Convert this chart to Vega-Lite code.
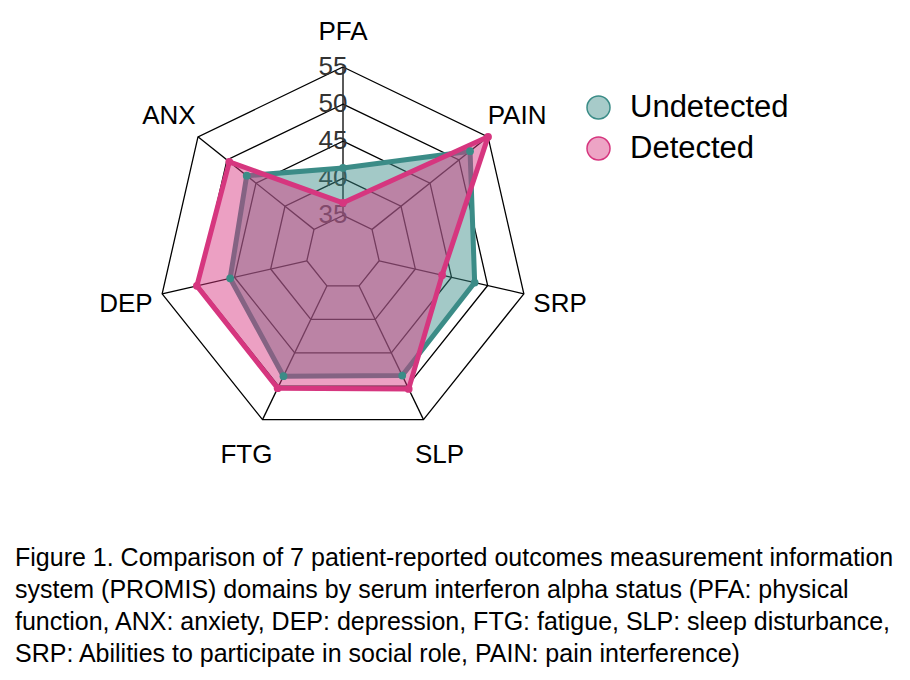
{
  "$schema": "https://vega.github.io/schema/vega-lite/v6.json",
  "width": 910,
  "height": 520,
  "autosize": "none",
  "padding": {"left": 0, "top": 0, "right": 0, "bottom": 160},
  "background": "white",
  "config": {"view": {"stroke": null}, "font": "Liberation Sans"},
  "title": {
    "text": [
      "Figure 1. Comparison of 7 patient-reported outcomes measurement information",
      "system (PROMIS) domains by serum interferon alpha status (PFA: physical",
      "function, ANX: anxiety, DEP: depression, FTG: fatigue, SLP: sleep disturbance,",
      "SRP: Abilities to participate in social role, PAIN: pain interference)"
    ],
    "orient": "bottom",
    "anchor": "start",
    "frame": "group",
    "dx": 15,
    "offset": 26,
    "baseline": "top",
    "font": "Liberation Sans",
    "fontSize": 25,
    "fontWeight": "normal",
    "lineHeight": 32,
    "color": "black"
  },
  "datasets": {
    "scores": [
      {"group": "Undetected", "domain": "PFA", "value": 41.4},
      {"group": "Undetected", "domain": "PAIN", "value": 51.9},
      {"group": "Undetected", "domain": "SRP", "value": 48.2},
      {"group": "Undetected", "domain": "SLP", "value": 48.4},
      {"group": "Undetected", "domain": "FTG", "value": 48.5},
      {"group": "Undetected", "domain": "DEP", "value": 45.6},
      {"group": "Undetected", "domain": "ANX", "value": 46.6},
      {"group": "Detected", "domain": "PFA", "value": 36.7},
      {"group": "Detected", "domain": "PAIN", "value": 55.0},
      {"group": "Detected", "domain": "SRP", "value": 43.7},
      {"group": "Detected", "domain": "SLP", "value": 50.4},
      {"group": "Detected", "domain": "FTG", "value": 50.3},
      {"group": "Detected", "domain": "DEP", "value": 50.2},
      {"group": "Detected", "domain": "ANX", "value": 49.6}
    ],
    "rings": [
      {"level": 35, "domain": ["PFA", "PAIN", "SRP", "SLP", "FTG", "DEP", "ANX"]},
      {"level": 40, "domain": ["PFA", "PAIN", "SRP", "SLP", "FTG", "DEP", "ANX"]},
      {"level": 45, "domain": ["PFA", "PAIN", "SRP", "SLP", "FTG", "DEP", "ANX"]},
      {"level": 50, "domain": ["PFA", "PAIN", "SRP", "SLP", "FTG", "DEP", "ANX"]},
      {"level": 55, "domain": ["PFA", "PAIN", "SRP", "SLP", "FTG", "DEP", "ANX"]}
    ],
    "axes": [
      {"domain": "PFA"}, {"domain": "PAIN"}, {"domain": "SRP"}, {"domain": "SLP"},
      {"domain": "FTG"}, {"domain": "DEP"}, {"domain": "ANX"}
    ]
  },
  "encoding": {
    "x": {"field": "x", "type": "quantitative", "scale": {"domain": [-1.8491, 3.0566], "nice": false, "zero": false}, "axis": null},
    "y": {"field": "y", "type": "quantitative", "scale": {"domain": [-1.442, 1.3612], "nice": false, "zero": false}, "axis": null}
  },
  "layer": [
    {
      "data": {"name": "rings"},
      "transform": [
        {"flatten": ["domain"]},
        {"calculate": "indexof(['PFA','PAIN','SRP','SLP','FTG','DEP','ANX'], datum.domain)", "as": "idx"},
        {"calculate": "PI/2 - datum.idx*2*PI/7", "as": "a"},
        {"calculate": "(datum.level-30)/25", "as": "r"},
        {"calculate": "datum.r*cos(datum.a)", "as": "x"},
        {"calculate": "datum.r*sin(datum.a)", "as": "y"}
      ],
      "mark": {"type": "line", "interpolate": "linear-closed", "color": "#000000", "strokeWidth": 1.3},
      "encoding": {
        "detail": {"field": "level", "type": "nominal"},
        "order": {"field": "idx", "type": "quantitative"}
      }
    },
    {
      "data": {"name": "axes"},
      "transform": [
        {"calculate": "indexof(['PFA','PAIN','SRP','SLP','FTG','DEP','ANX'], datum.domain)", "as": "idx"},
        {"calculate": "PI/2 - datum.idx*2*PI/7", "as": "a"},
        {"calculate": "0.2*cos(datum.a)", "as": "x"},
        {"calculate": "0.2*sin(datum.a)", "as": "y"},
        {"calculate": "cos(datum.a)", "as": "x2"},
        {"calculate": "sin(datum.a)", "as": "y2"}
      ],
      "mark": {"type": "rule", "color": "#000000", "strokeWidth": 1.3},
      "encoding": {
        "x2": {"field": "x2"},
        "y2": {"field": "y2"}
      }
    },
    {
      "data": {"name": "rings"},
      "transform": [
        {"calculate": "0", "as": "x"},
        {"calculate": "(datum.level-30)/25", "as": "y"}
      ],
      "mark": {"type": "text", "dx": -10, "fontSize": 26, "font": "Liberation Sans", "color": "#333333", "align": "center", "baseline": "middle"},
      "encoding": {"text": {"field": "level", "type": "quantitative"}}
    },
    {
      "data": {"name": "axes"},
      "transform": [
        {"calculate": "indexof(['PFA','PAIN','SRP','SLP','FTG','DEP','ANX'], datum.domain)", "as": "idx"},
        {"calculate": "PI/2 - datum.idx*2*PI/7", "as": "a"},
        {"calculate": "1.2*cos(datum.a)", "as": "x"},
        {"calculate": "1.2*sin(datum.a)", "as": "y"}
      ],
      "mark": {"type": "text", "fontSize": 26, "font": "Liberation Sans", "color": "black", "align": "center", "baseline": "middle", "dy": 2},
      "encoding": {"text": {"field": "domain", "type": "nominal"}}
    },
    {
      "data": {"name": "scores"},
      "transform": [
        {"filter": "datum.group === 'Undetected'"},
        {"calculate": "indexof(['PFA','PAIN','SRP','SLP','FTG','DEP','ANX'], datum.domain)", "as": "idx"},
        {"calculate": "PI/2 - datum.idx*2*PI/7", "as": "a"},
        {"calculate": "(datum.value-30)/25", "as": "r"},
        {"calculate": "datum.r*cos(datum.a)", "as": "x"},
        {"calculate": "datum.r*sin(datum.a)", "as": "y"}
      ],
      "mark": {"type": "line", "interpolate": "linear-closed", "strokeWidth": 5, "fillOpacity": 0.47, "strokeJoin": "round"},
      "encoding": {
        "order": {"field": "idx", "type": "quantitative"},
        "stroke": {"field": "group", "type": "nominal", "scale": {"domain": ["Undetected", "Detected"], "range": ["#3B8C87", "#D6367F"]}, "legend": null},
        "fill": {"field": "group", "type": "nominal", "scale": {"domain": ["Undetected", "Detected"], "range": ["#3B8C87", "#D6367F"]},
          "legend": {"title": null, "orient": "none", "legendX": 583, "legendY": 92, "padding": 0, "symbolType": "circle", "symbolSize": 529, "symbolStrokeColor": "#8a9a98", "symbolStrokeWidth": 1.5, "labelFont": "Liberation Sans", "labelFontSize": 31, "labelColor": "black", "labelOffset": 16, "rowPadding": 9,
            "encode": {"symbols": {"update": {"fillOpacity": {"value": 0.45}, "stroke": {"value": "#8f9f9d"}, "strokeOpacity": {"value": 1}}}}}}
      }
    },
    {
      "data": {"name": "scores"},
      "transform": [
        {"filter": "datum.group === 'Detected'"},
        {"calculate": "indexof(['PFA','PAIN','SRP','SLP','FTG','DEP','ANX'], datum.domain)", "as": "idx"},
        {"calculate": "PI/2 - datum.idx*2*PI/7", "as": "a"},
        {"calculate": "(datum.value-30)/25", "as": "r"},
        {"calculate": "datum.r*cos(datum.a)", "as": "x"},
        {"calculate": "datum.r*sin(datum.a)", "as": "y"}
      ],
      "mark": {"type": "line", "interpolate": "linear-closed", "strokeWidth": 5, "fillOpacity": 0.47, "strokeJoin": "round"},
      "encoding": {
        "order": {"field": "idx", "type": "quantitative"},
        "stroke": {"field": "group", "type": "nominal", "scale": {"domain": ["Undetected", "Detected"], "range": ["#3B8C87", "#D6367F"]}, "legend": null},
        "fill": {"field": "group", "type": "nominal", "scale": {"domain": ["Undetected", "Detected"], "range": ["#3B8C87", "#D6367F"]},
          "legend": {"title": null, "orient": "none", "legendX": 583, "legendY": 92, "padding": 0, "symbolType": "circle", "symbolSize": 529, "symbolStrokeColor": "#8a9a98", "symbolStrokeWidth": 1.5, "labelFont": "Liberation Sans", "labelFontSize": 31, "labelColor": "black", "labelOffset": 16, "rowPadding": 9,
            "encode": {"symbols": {"update": {"fillOpacity": {"value": 0.45}, "stroke": {"value": "#8f9f9d"}, "strokeOpacity": {"value": 1}}}}}}
      }
    },
    {
      "data": {"name": "scores"},
      "transform": [
        {"calculate": "indexof(['PFA','PAIN','SRP','SLP','FTG','DEP','ANX'], datum.domain)", "as": "idx"},
        {"calculate": "PI/2 - datum.idx*2*PI/7", "as": "a"},
        {"calculate": "(datum.value-30)/25", "as": "r"},
        {"calculate": "datum.r*cos(datum.a)", "as": "x"},
        {"calculate": "datum.r*sin(datum.a)", "as": "y"}
      ],
      "mark": {"type": "point", "filled": true, "opacity": 1, "size": 60, "shape": "circle"},
      "encoding": {
        "color": {"field": "group", "type": "nominal", "scale": {"domain": ["Undetected", "Detected"], "range": ["#3B8C87", "#D6367F"]}, "legend": null},
        "order": {"field": "group", "sort": "descending"}
      }
    }
  ]
}
